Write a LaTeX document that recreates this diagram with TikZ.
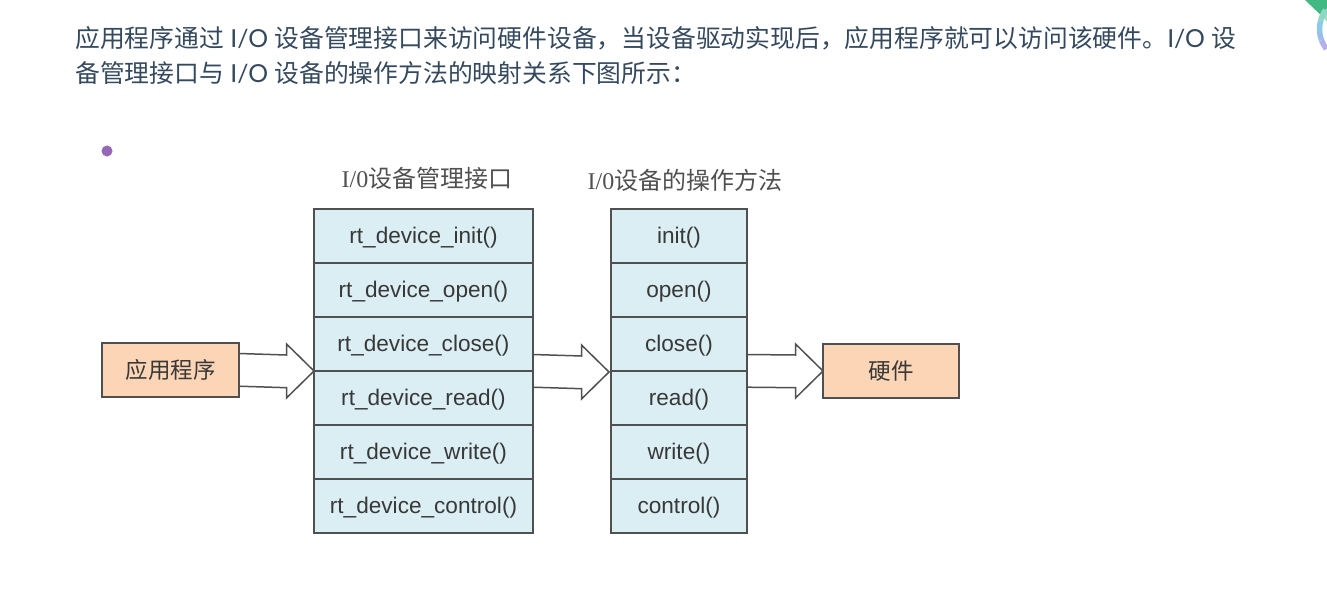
\documentclass[tikz,border=0pt]{standalone}
\usepackage{fontspec}
\setmainfont{Liberation Sans}
\newfontfamily\cjk{Noto Sans CJK SC}
\newfontfamily\lato{Lato}
\newfontfamily\titlefont{Liberation Serif}
\usepackage{xcolor}
\usetikzlibrary{positioning}
\usetikzlibrary{calc}
\usetikzlibrary{backgrounds}
\definecolor{bodytext}{HTML}{34495E}
\definecolor{cellblue}{HTML}{DAEEF3}
\definecolor{boxorange}{HTML}{FBD5B5}
\definecolor{edgegray}{HTML}{505050}
\definecolor{dotpurple}{HTML}{9467B8}
\definecolor{cornergreen}{HTML}{42B983}
\definecolor{cornerpale}{HTML}{A2E0BC}
\definecolor{ringa}{HTML}{8FD6C6}
\definecolor{ringb}{HTML}{8CCBE6}
\definecolor{ringc}{HTML}{98C0EA}
\definecolor{ringd}{HTML}{B8B0EC}
\newcommand{\hollowarrow}[2]{
 \draw[hollow] ($(#1)+(0,-16.5)$) -- ($(#2)+(-27.5,-16)$) -- ($(#2)+(-27.5,-27)$) -- (#2)
  -- ($(#2)+(-27.5,27)$) -- ($(#2)+(-27.5,16.7)$) -- ($(#1)+(0,16.2)$);
}
\begin{document}
\begin{tikzpicture}[x=1pt,y=-1pt,
  node distance = 0pt,
  line/.style = {anchor=west,inner sep=0pt,text=bodytext,font=\fontsize{24.8}{24.8}\selectfont},
  head/.style = {inner sep=0pt,text=edgegray,font=\fontsize{24}{24}\selectfont},
  cell/.style = {draw=edgegray,line width=1.5pt,fill=cellblue,minimum height=54pt,outer sep=0pt,
        inner sep=0pt,font=\fontsize{22.6}{22.6}\selectfont,text=black!78},
  wide/.style = {cell,minimum width=219pt,text height=18pt,text depth=3pt},
  thin/.style = {cell,minimum width=136pt,text height=18pt,text depth=3pt},
  ends/.style = {cell,fill=boxorange,minimum width=136pt,font=\fontsize{22.5}{22.5}\cjk},
  ring/.style = {line width=5.5pt},
  hollow/.style = {draw=edgegray,line width=1.5pt,fill=white}]
 \useasboundingbox (0,0) rectangle (1327,602);
 \clip (0,0) rectangle (1327,602);
 % page text
 \node[line] (line1) at (75,38) {{\cjk 应用程序通过}{\lato\ I/O\ }{\cjk 设备管理接口来访问硬件设备，当设备驱动实现后，应用程序就可以访问该硬件。}{\lato I/O\ }{\cjk 设}};
 \node[line] (line2) at (75,73) {{\cjk 备管理接口与}{\lato\ I/O\ }{\cjk 设备的操作方法的映射关系下图所示：}};
 \node[circle,fill=dotpurple,inner sep=0pt,minimum size=11pt] (dot) at (107,151) {};
 % corner
 \fill[cornergreen] (1305,0) -- (1327,0) -- (1327,21) -- cycle;
 \begin{scope}
  \clip (1305,0) -- (1327,0) -- (1327,21) -- cycle;
  \fill[cornerpale] (1352,29) circle (32.5pt);
 \end{scope}
 \draw[ring,ringa] (1352,29) ++(144:32.5pt) arc (144:165:32.5pt);
 \draw[ring,ringb] (1352,29) ++(165:32.5pt) arc (165:185:32.5pt);
 \draw[ring,ringc] (1352,29) ++(185:32.5pt) arc (185:200:32.5pt);
 \draw[ring,ringd] (1352,29) ++(200:32.5pt) arc (200:218:32.5pt);
 % columns
 \node[wide] (a1) at (423.5,236) {rt\_device\_init()};
 \node[wide,below=of a1] (a2) {rt\_device\_open()};
 \node[wide,below=of a2] (a3) {rt\_device\_close()};
 \node[wide,below=of a3] (a4) {rt\_device\_read()};
 \node[wide,below=of a4] (a5) {rt\_device\_write()};
 \node[wide,below=of a5] (a6) {rt\_device\_control()};
 \node[thin] (b1) at (679,236) {init()};
 \node[thin,below=of b1] (b2) {open()};
 \node[thin,below=of b2] (b3) {close()};
 \node[thin,below=of b3] (b4) {read()};
 \node[thin,below=of b4] (b5) {write()};
 \node[thin,below=of b5] (b6) {control()};
 \node[head] (ta) at (427,178) {{\titlefont I/0}{\cjk 设备管理接口}};
 \node[head] (tb) at (685,180) {{\titlefont I/0}{\cjk 设备的操作方法}};
 \node[ends,minimum width=137pt] (app) at (170.5,370) {应用程序};
 \node[ends] (hw) at (891,371) {硬件};
 \coordinate (tipb) at ($(b3.south west)+(-2,1)$);
 % arrows
 \begin{scope}[on background layer]
  \hollowarrow{app.east}{a3.south west}
  \hollowarrow{a3.south east}{tipb}
  \hollowarrow{b3.south east}{hw.west}
 \end{scope}
\end{tikzpicture}
\end{document}
